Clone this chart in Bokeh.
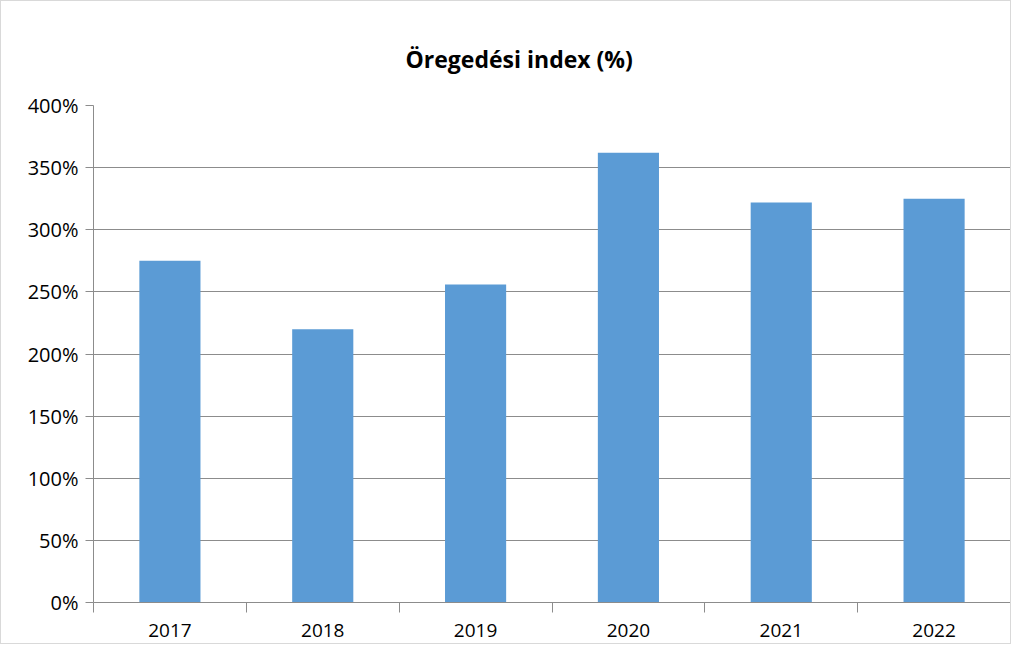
from bokeh.plotting import figure
from bokeh.models import Range1d, FixedTicker, PrintfTickFormatter, ColumnDataSource
from bokeh.embed import file_html
from bokeh.resources import INLINE

years = ["2017", "2018", "2019", "2020", "2021", "2022"]
index_pct = [275, 220, 256, 362, 322, 325]
y_ticks = [0, 50, 100, 150, 200, 250, 300, 350, 400]

xpos = [i + 0.5 for i in range(len(years))]
src = ColumnDataSource(dict(x=xpos, top=index_pct))

FONT = "Open Sans"
GRID = "#8c8c8c"

p = figure(width=1011, height=644, output_backend="svg", toolbar_location=None,
           x_range=Range1d(0, len(years)), y_range=Range1d(0, 400),
           min_border_left=92, min_border_right=2, min_border_top=104, min_border_bottom=43,
           title="Öregedési index (%)")
p.styles = {"border": "1px solid #d9d9d9"}
p.outline_line_color = None
p.background_fill_color = "white"
p.border_fill_color = "white"

p.title.text_font = FONT
p.title.text_font_style = "bold"
p.title.text_font_size = "23px"
p.title.text_color = "#000000"
p.title.align = "left"
p.title.offset = 312
p.title.standoff = 62

p.vbar(x="x", top="top", width=0.4, bottom=0, source=src, color="#5B9BD5", line_color=None)

# x axis
xa = p.xaxis[0]
xa.ticker = FixedTicker(ticks=xpos, minor_ticks=list(range(len(years) + 1)))
xa.major_label_overrides = {x: y for x, y in zip(xpos, years)}
xa.major_tick_line_color = None
xa.major_tick_out = 0
xa.major_tick_in = 0
xa.minor_tick_line_color = GRID
xa.minor_tick_out = 10
xa.minor_tick_in = 0
xa.axis_line_color = GRID
xa.major_label_text_font = FONT
xa.major_label_text_font_size = "19px"
xa.major_label_text_color = "#000000"
xa.major_label_standoff = 11

# y axis
ya = p.yaxis[0]
ya.ticker = FixedTicker(ticks=y_ticks)
ya.formatter = PrintfTickFormatter(format="%d%%")
ya.axis_line_color = GRID
ya.major_tick_line_color = GRID
ya.major_tick_out = 8
ya.major_tick_in = 0
ya.minor_tick_line_color = None
ya.major_label_text_font = FONT
ya.major_label_text_font_size = "20px"
ya.major_label_text_color = "#000000"
ya.major_label_standoff = 7

p.xgrid.grid_line_color = None
p.ygrid.grid_line_color = GRID
p.ygrid.grid_line_width = 1

open("out.html", "w").write(file_html(p, INLINE))
